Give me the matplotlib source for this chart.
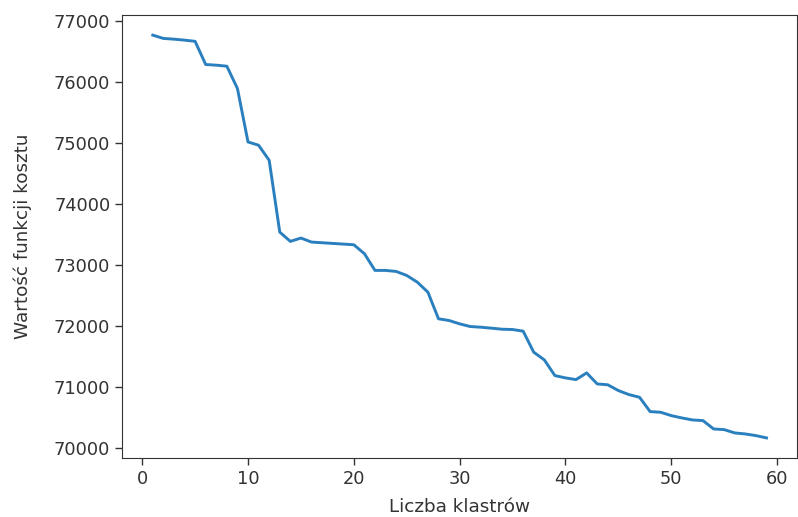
import matplotlib
matplotlib.use("Agg")
import matplotlib.pyplot as plt

# Number of clusters and the corresponding cost-function value
n_clusters = list(range(1, 60))
cost = [
    76770, 76716, 76704, 76688, 76668, 76288, 76277, 76260, 75894, 75017,
    74963, 74716, 73538, 73385, 73440, 73374, 73363, 73352, 73341, 73330,
    73183, 72909, 72909, 72892, 72826, 72716, 72552, 72115, 72087, 72032,
    71988, 71977, 71961, 71944, 71939, 71912, 71567, 71441, 71183, 71145,
    71117, 71227, 71046, 71032, 70937, 70871, 70827, 70592, 70581, 70526,
    70488, 70455, 70444, 70307, 70296, 70242, 70225, 70198, 70160,
]

x_label = "Liczba klastrów"
y_label = "Wartość funkcji kosztu"

fig = plt.figure(figsize=(7.98, 5.17), dpi=100)
ax = fig.add_axes([0.153, 0.114, 0.846, 0.857])
ax.plot(n_clusters, cost, color="#2a7fbf", linewidth=2.1)

ax.set_xticks([0, 10, 20, 30, 40, 50, 60])
ax.set_yticks([70000, 71000, 72000, 73000, 74000, 75000, 76000, 77000])
ax.tick_params(labelsize=12.8, length=5, width=1, colors="#333333")
for s in ax.spines.values():
    s.set_color("#333333")
ax.set_xlabel(x_label, fontsize=13.2, color="#333333", labelpad=7.5)
ax.set_ylabel(y_label, fontsize=13.2, color="#333333", labelpad=16)

fig.savefig("out.png", dpi=100)
